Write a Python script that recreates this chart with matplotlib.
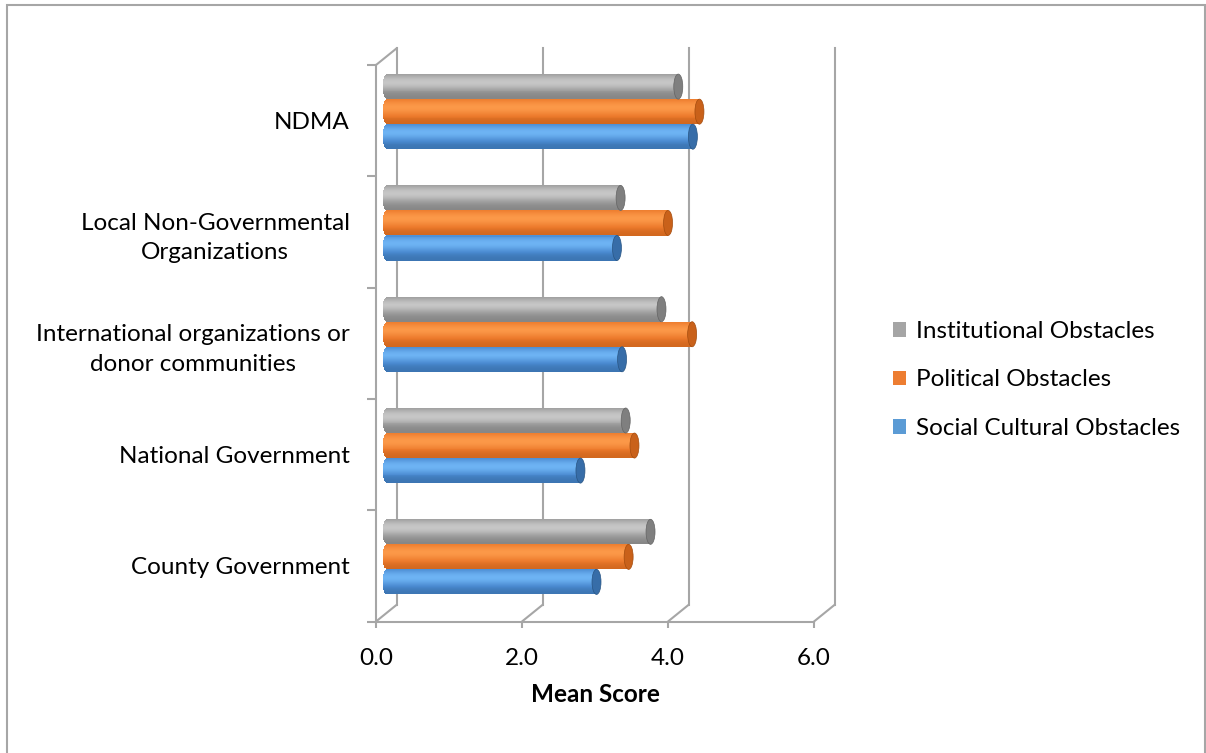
import matplotlib
matplotlib.use("Agg")
import matplotlib.pyplot as plt
import numpy as np
from matplotlib.colors import to_rgb
from matplotlib.patches import Ellipse, Patch, Rectangle
from matplotlib.transforms import ScaledTranslation

plt.rcParams["font.family"] = ["Lato", "DejaVu Sans"]

# bottom to top on the category axis
categories = [
    "County Government",
    "National Government",
    "International organizations or\ndonor communities",
    "Local Non-Governmental\nOrganizations",
    "NDMA",
]
institutional = [3.61, 3.27, 3.76, 3.20, 3.99]
political = [3.31, 3.39, 4.18, 3.85, 4.28]
social = [2.87, 2.65, 3.22, 3.15, 4.19]
series_names = ["Institutional Obstacles", "Political Obstacles", "Social Cultural Obstacles"]
x_ticks = [0, 2, 4, 6]

# (dark, mid, light) shades for the cylinder look, plus the flat legend colour
SHADES = {
    "gray": ("#6f6f6f", "#9c9c9c", "#c6c6c6", "#a5a5a5"),
    "orange": ("#b65410", "#ec7a2c", "#fb9848", "#ed7d31"),
    "blue": ("#2d5e92", "#4a8ad0", "#6db3f3", "#5b9bd5"),
}
WALL = "#a6a6a6"
DPI = 100
FS = 17.5
PX_PER_UNIT = 73.0
CAP = 4.5 / PX_PER_UNIT   # half-width of the end ellipse in data units
BAR_H = 0.225


def mix(c1, c2, f):
    a, b = np.array(to_rgb(c1)), np.array(to_rgb(c2))
    return tuple(a + (b - a) * f)


def shade(t, dark, mid, light):
    v = 0.25 + 0.75 * np.exp(-((t - 0.68) / 0.33) ** 2)
    if v < 0.5:
        return mix(dark, mid, v / 0.5)
    return mix(mid, light, (v - 0.5) / 0.5)


def cylinder(ax, y, value, key, tr):
    dark, mid, light, _ = SHADES[key]
    n = 26
    t = (np.arange(n) + 0.5) / n
    ys = y - BAR_H / 2 + t * BAR_H
    lefts = -CAP * np.sqrt(np.clip(1 - (2 * t - 1) ** 2, 0, 1))
    cols = [shade(tt, dark, mid, light) for tt in t]
    ax.barh(ys, value - lefts, left=lefts, height=BAR_H / n * 1.15,
            color=cols, linewidth=0, transform=tr, zorder=3)
    ax.add_patch(Ellipse((value, y), 2 * CAP, BAR_H,
                         facecolor=mix(dark, mid, 0.35), edgecolor=mix(dark, "#000000", 0.1),
                         lw=0.5, transform=tr, zorder=4))


fig = plt.figure(figsize=(12.06, 7.53), dpi=DPI)
ax = fig.add_axes([376 / 1206, 131.5 / 753, 438 / 1206, 556.5 / 753])
ax.set_xlim(0, 6)
ax.set_ylim(-0.5, len(categories) - 0.5)

# depth offsets: bars sit mid-way, gridlines on the back wall
bar_tr = ax.transData + ScaledTranslation(11 / DPI, 9 / DPI, fig.dpi_scale_trans)
back_tr = ax.transData + ScaledTranslation(21 / DPI, 17 / DPI, fig.dpi_scale_trans)
y_top = len(categories) - 0.5

for x in x_ticks:
    ax.plot([x, x], [-0.5, y_top], color=WALL, lw=1.5, transform=back_tr,
            clip_on=False, zorder=1)
    ax.annotate("", xy=(x, -0.5), xytext=(21 * 0.72, 17 * 0.72), textcoords="offset points",
                arrowprops=dict(arrowstyle="-", color=WALL, lw=1.5, shrinkA=0, shrinkB=0),
                annotation_clip=False, zorder=1)
ax.annotate("", xy=(0, y_top), xytext=(21 * 0.72, 17 * 0.72), textcoords="offset points",
            arrowprops=dict(arrowstyle="-", color=WALL, lw=1.5, shrinkA=0, shrinkB=0),
            annotation_clip=False, zorder=1)

yy = np.arange(len(categories))
for i in yy:
    cylinder(ax, i + BAR_H, institutional[i], "gray", bar_tr)
    cylinder(ax, i, political[i], "orange", bar_tr)
    cylinder(ax, i - BAR_H, social[i], "blue", bar_tr)

for side in ("top", "right"):
    ax.spines[side].set_visible(False)
for side in ("left", "bottom"):
    ax.spines[side].set_color(WALL)
    ax.spines[side].set_linewidth(1.5)

ax.set_yticks(yy)
ax.set_yticklabels(categories, fontsize=FS, ma="center", linespacing=1.5)
ax.set_yticks(np.arange(-0.5, len(categories)), minor=True)
ax.tick_params(axis="y", which="major", length=0, pad=19)
ax.tick_params(axis="y", which="minor", length=6.5, width=1.5, color=WALL)

ax.set_xticks(x_ticks)
ax.set_xticklabels([f"{v:.1f}" for v in x_ticks], fontsize=FS)
ax.tick_params(axis="x", length=4, width=1.5, color=WALL, pad=15)
ax.set_xlabel("Mean Score", fontsize=FS, fontweight="bold", labelpad=10)

handles = [Patch(facecolor=SHADES[k][3]) for k in ("gray", "orange", "blue")]
fig.legend(handles, series_names, loc="center left",
           bbox_to_anchor=(871 / 1206, 1 - 380 / 753), frameon=False, fontsize=FS,
           handlelength=0.55, handleheight=0.55, handletextpad=0.42, labelspacing=1.13)

fig.patches.append(Rectangle((7 / 1206, -0.02), 1198 / 1206, 0.02 + 748 / 753,
                             transform=fig.transFigure, fill=False,
                             edgecolor=WALL, lw=1.5))

fig.savefig("out.png", dpi=DPI)
